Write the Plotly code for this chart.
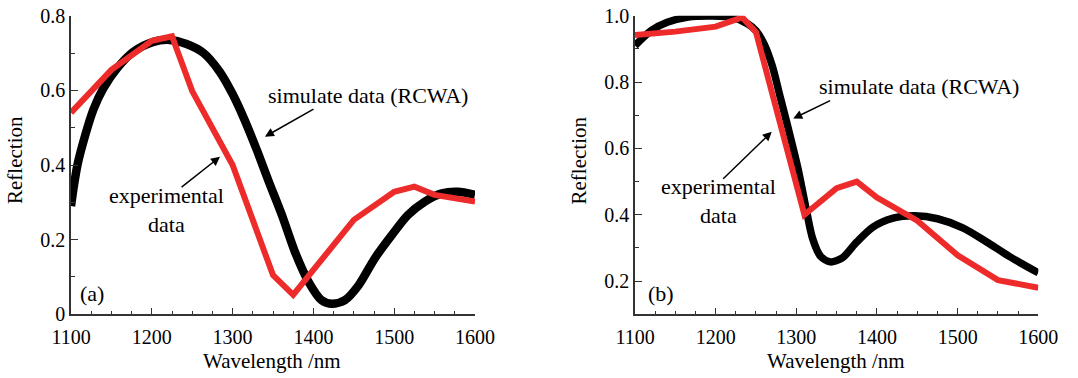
import plotly.graph_objects as go

# ---------------- data ----------------
# panel (a)
a_sim_wl = [1100, 1104, 1108, 1115, 1128, 1140, 1157, 1177, 1202, 1222, 1243, 1264, 1284,
            1300, 1315, 1330, 1344, 1361, 1377, 1394, 1410, 1423, 1439, 1456, 1476, 1497,
            1517, 1538, 1559, 1579, 1600]
a_sim_r = [0.29, 0.35, 0.40, 0.46, 0.55, 0.605, 0.659, 0.703, 0.730, 0.735, 0.724, 0.70, 0.65,
           0.59, 0.52, 0.44, 0.36, 0.266, 0.168, 0.087, 0.038, 0.028, 0.038, 0.078, 0.150, 0.212,
           0.266, 0.302, 0.324, 0.328, 0.320]
a_exp_wl = [1100, 1150, 1200, 1225, 1250, 1300, 1350, 1375, 1450, 1500, 1525, 1550, 1600]
a_exp_r = [0.54, 0.655, 0.733, 0.745, 0.598, 0.40, 0.105, 0.052, 0.253, 0.328, 0.342, 0.320, 0.302]

# panel (b)
b_sim_wl = [1100, 1120, 1140, 1166, 1195, 1221, 1240, 1250, 1260, 1270, 1280, 1290, 1302, 1312,
            1320, 1330, 1342, 1357, 1375, 1395, 1420, 1447, 1475, 1507, 1536, 1565, 1600]
b_sim_r = [0.91, 0.955, 0.98, 0.996, 0.999, 0.995, 0.975, 0.955, 0.915, 0.85, 0.755, 0.66, 0.54, 0.42,
           0.33, 0.275, 0.258, 0.27, 0.318, 0.363, 0.39, 0.397, 0.388, 0.36, 0.318, 0.273, 0.225]
b_exp_wl = [1100, 1150, 1200, 1233, 1250, 1310, 1350, 1375, 1400, 1450, 1500, 1550, 1600]
b_exp_r = [0.942, 0.952, 0.967, 0.995, 0.95, 0.40, 0.48, 0.50, 0.452, 0.382, 0.278, 0.203, 0.18]

x_ticks = [1100, 1200, 1300, 1400, 1500, 1600]
a_y_ticks = [0, 0.2, 0.4, 0.6, 0.8]
a_y_text = ["0", "0.2", "0.4", "0.6", "0.8"]
b_y_ticks = [0.2, 0.4, 0.6, 0.8, 1.0]
b_y_text = ["0.2", "0.4", "0.6", "0.8", "1.0"]

RED = "#EE2B2B"
FONT = "Liberation Serif"
AX = "#333333"

fig = go.Figure()
fig.add_trace(go.Scatter(x=a_sim_wl, y=a_sim_r, mode="lines", line=dict(color="black", width=8.5, shape="spline", smoothing=0.8),
                         xaxis="x", yaxis="y", showlegend=False))
fig.add_trace(go.Scatter(x=a_exp_wl, y=a_exp_r, mode="lines", line=dict(color=RED, width=6),
                         xaxis="x", yaxis="y", showlegend=False))
fig.add_trace(go.Scatter(x=b_sim_wl, y=b_sim_r, mode="lines", line=dict(color="black", width=7.5, shape="spline", smoothing=0.8),
                         xaxis="x2", yaxis="y2", showlegend=False))
fig.add_trace(go.Scatter(x=b_exp_wl, y=b_exp_r, mode="lines", line=dict(color=RED, width=6),
                         xaxis="x2", yaxis="y2", showlegend=False))


def xax(domain, anchor):
    return dict(domain=domain, anchor=anchor, range=[1100, 1600], tickvals=x_ticks, automargin=False,
                ticks="inside", ticklen=7, tickwidth=1.3, tickcolor=AX, ticklabelstandoff=4,
                minor=dict(dtick=25, tick0=1100, ticks="inside", ticklen=4, tickwidth=1.2, tickcolor=AX),
                showline=True, linecolor=AX, linewidth=1.5, showgrid=False, zeroline=False,
                tickfont=dict(family=FONT, size=20, color="black"))


def yax(domain, anchor, rng, tv, tt, dt):
    return dict(domain=domain, anchor=anchor, range=rng, tickvals=tv, ticktext=tt, automargin=False,
                ticks="inside", ticklen=7, tickwidth=1.3, tickcolor=AX,
                minor=dict(dtick=dt, tick0=0, ticks="inside", ticklen=4, tickwidth=1.2, tickcolor=AX),
                showline=True, linecolor=AX, linewidth=1.5, showgrid=False, zeroline=False,
                tickfont=dict(family=FONT, size=20, color="black"))


ydom = [(378 - 314.3) / 378, (378 - 15.7) / 378]
fig.update_layout(
    template="none",
    width=1078, height=378, margin=dict(l=0, r=0, t=0, b=0),
    paper_bgcolor="white", plot_bgcolor="white",
    xaxis=xax([71 / 1078, 475 / 1078], "y"),
    yaxis=yax(ydom, "x", [0, 0.8], a_y_ticks, a_y_text, 0.1),
    xaxis2=xax([635 / 1078, 1038.3 / 1078], "y2"),
    yaxis2=yax(ydom, "x2", [0.1, 1.0], b_y_ticks, b_y_text, 0.1),
    font=dict(family=FONT, color="black"),
)

ann = []
tf = dict(family=FONT, size=22, color="black")
# axis titles
for cx in [272, 836]:
    ann.append(dict(text="Wavelength /nm", x=cx / 1078, y=(378 - 361) / 378, xref="paper", yref="paper",
                    showarrow=False, font=dict(family=FONT, size=21, color="black"), xanchor="center", yanchor="middle"))
for cx in [15, 578.5]:
    ann.append(dict(text="Reflection", x=cx / 1078, y=(378 - 160) / 378, xref="paper", yref="paper",
                    showarrow=False, textangle=-90, font=dict(family=FONT, size=21, color="black"),
                    xanchor="center", yanchor="middle"))

# panel (a) annotations
ann.append(dict(text="simulate data (RCWA)", x=1467, y=0.587, xref="x", yref="y", showarrow=False, font=tf))
ann.append(dict(text="experimental<br>data", x=1218.8, y=0.279, xref="x", yref="y", showarrow=False, font=tf))
ann.append(dict(text="(a)", x=1126.6, y=0.056, xref="x", yref="y", showarrow=False, font=tf))
ann.append(dict(text="", x=1340, y=0.476, ax=1402, ay=0.552, xref="x", yref="y", axref="x", ayref="y",
                showarrow=True, arrowhead=2, arrowsize=1.2, arrowwidth=1.5, arrowcolor="black"))
ann.append(dict(text="", x=1284.4, y=0.422, ax=1235, ay=0.3375, xref="x", yref="y", axref="x", ayref="y",
                showarrow=True, arrowhead=2, arrowsize=1.2, arrowwidth=1.5, arrowcolor="black"))

# panel (b) annotations
ann.append(dict(text="simulate data (RCWA)", x=1452, y=0.786, xref="x2", yref="y2", showarrow=False, font=tf))
ann.append(dict(text="experimental<br>data", x=1203.3, y=0.441, xref="x2", yref="y2", showarrow=False, font=tf))
ann.append(dict(text="(b)", x=1132, y=0.163, xref="x2", yref="y2", showarrow=False, font=tf))
ann.append(dict(text="", x=1296.2, y=0.690, ax=1343.8, ay=0.746, xref="x2", yref="y2", axref="x2", ayref="y2",
                showarrow=True, arrowhead=2, arrowsize=1.2, arrowwidth=1.5, arrowcolor="black"))
ann.append(dict(text="", x=1269.5, y=0.650, ax=1207.5, ay=0.504, xref="x2", yref="y2", axref="x2", ayref="y2",
                showarrow=True, arrowhead=2, arrowsize=1.2, arrowwidth=1.5, arrowcolor="black"))

fig.update_layout(annotations=ann)
fig.write_html("out.html")
